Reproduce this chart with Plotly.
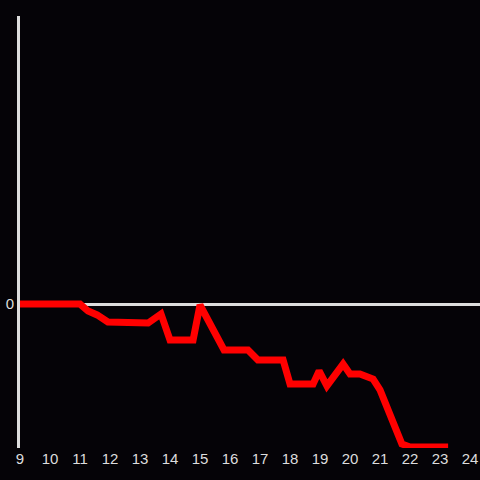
import plotly.graph_objects as go

hours = [9.0, 11.0, 11.27, 11.57, 11.93, 12.93, 13.27, 13.7, 14.0, 14.77, 15.0,
         15.8, 16.6, 16.93, 17.77, 18.0, 18.77, 18.97, 19.23, 19.77, 20.0, 20.33,
         20.77, 21.0, 21.73, 22.0, 23.27]
values = [0, 0, -0.49, -0.76, -1.25, -1.25, -1.32, -0.69, -2.5, -2.5, -0.07,
          -3.19, -3.19, -3.89, -3.89, -5.56, -5.56, -4.65, -5.69, -4.17, -4.86, -4.86,
          -5.21, -5.97, -9.72, -9.93, -9.93]
x_ticks = list(range(9, 25))

fig = go.Figure()
fig.add_trace(go.Scatter(x=hours, y=values, mode="lines",
                         line=dict(color="#ff0000", width=7), hoverinfo="skip"))

fig.update_layout(
    width=480, height=480,
    margin=dict(l=20, r=0, t=16, b=32),
    paper_bgcolor="#050307", plot_bgcolor="#050307",
    showlegend=False,
    font=dict(family="Liberation Sans, Arial, sans-serif", size=15, color="#dddddd"),
    xaxis=dict(range=[9, 24.333], tickvals=x_ticks, ticktext=[str(t) for t in x_ticks],
               showgrid=False, zeroline=False, showline=False, ticks=""),
    yaxis=dict(range=[-10, 20], tickvals=[0], ticktext=["0"],
               showgrid=False, zeroline=True, zerolinecolor="#dddddd", zerolinewidth=3,
               showline=True, linecolor="#dddddd", linewidth=3, ticks=""),
)
fig.write_html("out.html", config={"displayModeBar": False},
               post_script="document.body.style.margin='0';document.body.style.background='#050307';")
